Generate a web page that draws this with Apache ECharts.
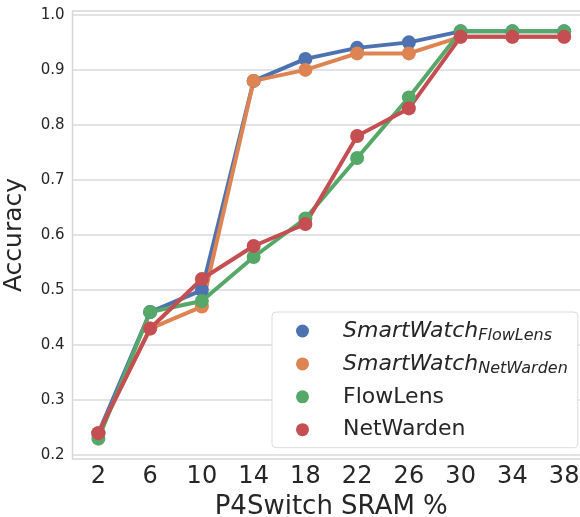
<!DOCTYPE html>
<html>
<head>
<meta charset="utf-8">
<script src="https://cdn.jsdelivr.net/npm/echarts@6/dist/echarts.min.js"></script>
<style>
  html, body { margin: 0; padding: 0; background: #ffffff; }
  #chart { width: 580px; height: 517px; }
</style>
</head>
<body>
<div id="chart"></div>
<script>
// P4Switch SRAM share (%) on the x axis
const sramPct = [2, 6, 10, 14, 18, 22, 26, 30, 34, 38];
const yTicks = [0.2, 0.3, 0.4, 0.5, 0.6, 0.7, 0.8, 0.9, 1.0];

// Accuracy per configuration
const smartWatchFlowLens  = [0.24, 0.46, 0.50, 0.88, 0.92, 0.94, 0.95, 0.97, 0.97, 0.97];
const smartWatchNetWarden = [0.24, 0.43, 0.47, 0.88, 0.90, 0.93, 0.93, 0.96, 0.96, 0.96];
const flowLens            = [0.23, 0.46, 0.48, 0.56, 0.63, 0.74, 0.85, 0.97, 0.97, 0.97];
const netWarden           = [0.24, 0.43, 0.52, 0.58, 0.62, 0.78, 0.83, 0.96, 0.96, 0.96];

const seriesDefs = [
  { name: 'SmartWatch_FlowLens',  values: smartWatchFlowLens,  color: '#4c72b0' },
  { name: 'SmartWatch_NetWarden', values: smartWatchNetWarden, color: '#dd8452' },
  { name: 'FlowLens',             values: flowLens,            color: '#55a868' },
  { name: 'NetWarden',            values: netWarden,           color: '#c44e52' }
];

const FONT = 'DejaVu Sans';
const TEXT = '#262626';

// "A_B" legend names are shown as italic A with italic subscript B
function legendLabel(name) {
  const parts = name.split('_');
  if (parts.length === 2) return '{it|' + parts[0] + '}{sub|' + parts[1] + '}';
  return '{reg|' + name + '}';
}

const chart = echarts.init(document.getElementById('chart'), null, { renderer: 'canvas' });

chart.setOption({
  animation: false,
  backgroundColor: '#ffffff',
  textStyle: { fontFamily: FONT, color: TEXT },
  grid: {
    left: 72.5, right: -10, top: 11, bottom: 58,
    outerBoundsMode: 'none',
    show: true, borderColor: '#d6d6d6', borderWidth: 1.5, backgroundColor: '#ffffff'
  },
  xAxis: {
    type: 'value', min: 0, max: 40,
    name: 'P4Switch SRAM %', nameLocation: 'middle', nameGap: 26,
    nameTextStyle: { fontFamily: FONT, fontSize: 26, color: TEXT },
    axisLine: { show: false },
    axisTick: { show: false, customValues: sramPct },
    splitLine: { show: false },
    axisLabel: { customValues: sramPct, fontFamily: FONT, fontSize: 24, color: TEXT, margin: 6 }
  },
  yAxis: {
    type: 'value', min: 0.193, max: 1.007,
    name: 'Accuracy', nameLocation: 'middle', nameGap: 46,
    nameTextStyle: { fontFamily: FONT, fontSize: 25, color: TEXT },
    axisLine: { show: false },
    axisTick: { show: false, customValues: yTicks },
    splitLine: { show: true, lineStyle: { color: '#dadada', width: 1.5 } },
    axisLabel: {
      customValues: yTicks, fontFamily: FONT, fontSize: 15, color: TEXT, margin: 8,
      formatter: v => v.toFixed(1)
    }
  },
  legend: {
    orient: 'vertical', left: 272, top: 312,
    backgroundColor: '#ffffff', borderColor: '#dcdcdc', borderWidth: 1, borderRadius: 4,
    padding: [6, 10, 5, 24],
    itemWidth: 13, itemHeight: 13, itemGap: 6.9, icon: 'circle',
    formatter: legendLabel,
    textStyle: {
      fontFamily: FONT, color: TEXT, padding: [0, 0, 0, 29], lineHeight: 26,
      rich: {
        it:  { fontFamily: FONT, fontSize: 22, fontStyle: 'italic', color: TEXT, height: 26, lineHeight: 26 },
        sub: { fontFamily: FONT, fontSize: 16, fontStyle: 'italic', color: TEXT, lineHeight: 19, verticalAlign: 'bottom' },
        reg: { fontFamily: FONT, fontSize: 22, color: TEXT, height: 26, lineHeight: 26 }
      }
    },
    data: seriesDefs.map(s => s.name)
  },
  series: seriesDefs.map(s => ({
    name: s.name,
    type: 'line',
    data: sramPct.map((x, i) => [x, s.values[i]]),
    color: s.color,
    symbol: 'circle', symbolSize: 14,
    lineStyle: { width: 4, color: s.color, join: 'round' },
    itemStyle: { color: s.color },
    emphasis: { disabled: true }
  }))
});
</script>
</body>
</html>
